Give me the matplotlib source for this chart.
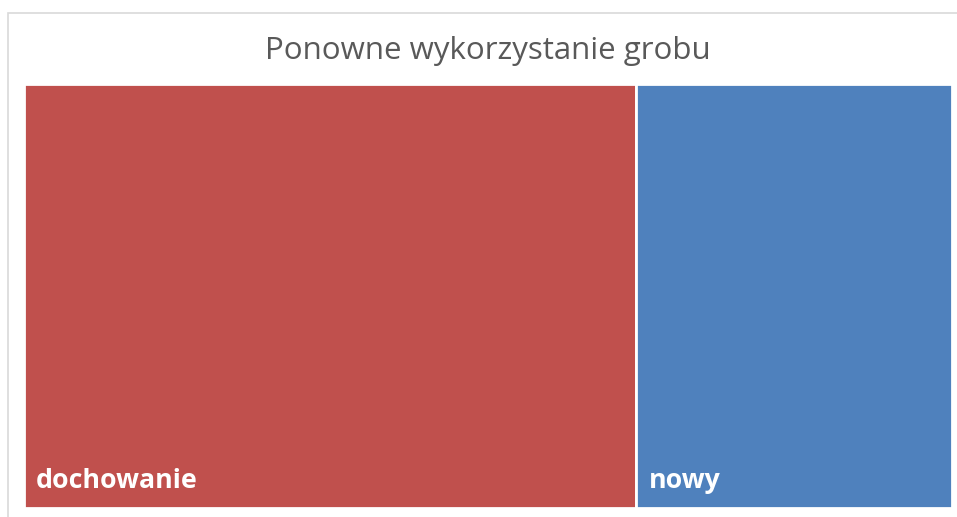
import matplotlib
matplotlib.use('Agg')
import matplotlib.pyplot as plt
from matplotlib.patches import Rectangle

# dane
kategorie = ['dochowanie', 'nowy']
wartosci = [66, 34]
kolory = ['#C0504D', '#4F81BD']

plt.rcParams['font.family'] = ['Open Sans', 'DejaVu Sans']

fig = plt.figure(figsize=(9.57, 5.17), dpi=100)

# ramka wykresu
ramka = Rectangle((8 / 957, -0.05), 1.1, (517 - 13) / 517 + 0.05, transform=fig.transFigure,
                  fill=False, edgecolor='#D9D9D9', linewidth=1.2)
fig.patches.append(ramka)

fig.text(488 / 957, 1 - 59 / 517, 'Ponowne wykorzystanie grobu', ha='center', va='baseline',
         fontsize=22.5, color='#595959')

ax = fig.add_axes([24 / 957, 9 / 517, 928 / 957, 424 / 517])
suma = sum(wartosci)
ax.set_xlim(0, suma)
ax.set_ylim(0, 1)
ax.axis('off')

x = 0
for kat, w, kol in zip(kategorie, wartosci, kolory):
    ax.add_patch(Rectangle((x, 0), w, 1, facecolor=kol, edgecolor='white', linewidth=2.0))
    ax.annotate(kat, xy=(x, 0), xytext=(12, 20), textcoords='offset pixels',
                ha='left', va='baseline', fontsize=19.3, fontweight='bold', color='white')
    x += w

fig.savefig('out.png', dpi=100)
